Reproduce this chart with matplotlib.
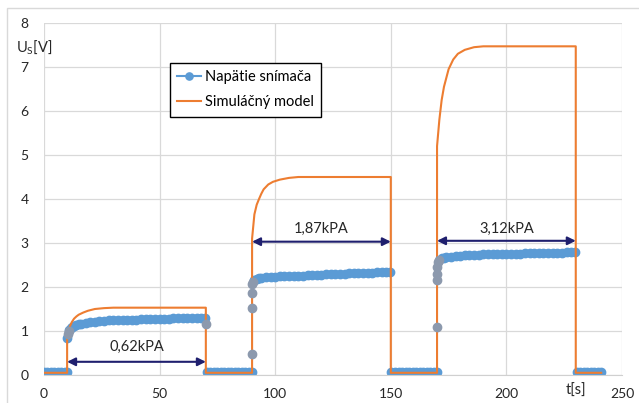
import matplotlib
matplotlib.use('Agg')
import matplotlib.pyplot as plt
from matplotlib.lines import Line2D
from matplotlib.patches import Rectangle
import numpy as np

plt.rcParams['font.family'] = ['Lato', 'DejaVu Sans']
plt.rcParams['mathtext.default'] = 'regular'

# simulation model (orange)
model_t = [0, 10, 10, 11, 12, 13, 14, 15, 17, 19, 22, 26, 30, 70, 70,
           90, 90, 91, 92, 93, 94, 95, 97, 99, 102, 106, 110, 150, 150,
           170, 170, 171, 172, 173, 174, 175, 177, 179, 182, 186, 190, 230, 230, 241]
model_u = [0.05, 0.05, 0.9, 1.08, 1.2, 1.28, 1.33, 1.37, 1.42, 1.46, 1.5, 1.52, 1.53, 1.53, 0.05,
           0.05, 3.1, 3.65, 3.87, 4.0, 4.12, 4.22, 4.33, 4.39, 4.44, 4.48, 4.5, 4.5, 0.05,
           0.05, 5.2, 5.8, 6.25, 6.55, 6.75, 6.95, 7.17, 7.3, 7.39, 7.45, 7.47, 7.47, 0.05, 0.05]

# measured sensor voltage (blue), one list per section
base1_t = [0, 1.5, 3, 4.5, 6, 7.5, 9, 10]
base1_u = [0.06, 0.06, 0.07, 0.06, 0.06, 0.07, 0.06, 0.06]

step1_t = [10.1, 10.3, 10.6, 11, 11.5, 12, 13, 14, 15, 16,
           18, 20, 22, 24, 26, 28, 30, 32, 34, 36, 38, 40, 42, 44, 46,
           48, 50, 52, 54, 56, 58, 60, 62, 64, 66, 68, 69.8, 70]
step1_u = [0.85, 0.94, 0.99, 1.03, 1.06, 1.08, 1.11, 1.13, 1.15, 1.16,
           1.18, 1.2, 1.21, 1.22, 1.23, 1.24, 1.24, 1.25, 1.25, 1.26, 1.26, 1.26, 1.27, 1.27, 1.27,
           1.28, 1.28, 1.28, 1.28, 1.29, 1.29, 1.29, 1.29, 1.3, 1.3, 1.3, 1.3, 1.15]

base2_t = [70.3, 72, 73.5, 75, 76.5, 78, 79.5, 81, 82.5, 84, 85.5, 87, 88.5, 89.8]
base2_u = [0.06, 0.06, 0.07, 0.06, 0.06, 0.06, 0.07, 0.06, 0.06, 0.06, 0.07, 0.06, 0.06, 0.06]

step2_t = [90, 90.05, 90.1, 90.15, 90.2, 91, 92, 93, 94, 96, 98, 100, 102, 104, 106,
           108, 110, 112, 114, 116, 118, 120, 122, 124, 126, 128, 130, 132, 134,
           136, 138, 140, 142, 144, 146, 148, 149.8]
step2_u = [0.48, 1.52, 1.87, 2.06, 2.12, 2.16, 2.18, 2.2, 2.21, 2.22, 2.22, 2.23, 2.24, 2.24, 2.25,
           2.25, 2.26, 2.26, 2.27, 2.27, 2.28, 2.28, 2.29, 2.29, 2.29, 2.3, 2.3, 2.31, 2.31,
           2.31, 2.32, 2.32, 2.32, 2.33, 2.33, 2.34, 2.35]

base3_t = [150.3, 152, 153.5, 155, 156.5, 158, 159.5, 161, 162.5, 164, 165.5, 167, 168.5, 169.8]
base3_u = [0.06, 0.06, 0.07, 0.06, 0.06, 0.06, 0.07, 0.06, 0.06, 0.06, 0.07, 0.06, 0.06, 0.06]

step3_t = [170, 170.05, 170.1, 170.15, 170.2, 171, 172, 173, 174, 176, 178, 180, 182, 184,
           186, 188, 190, 192, 194, 196, 198, 200, 202, 204, 206, 208, 210, 212, 214,
           216, 218, 220, 222, 224, 226, 228, 229.8]
step3_u = [1.1, 2.16, 2.3, 2.45, 2.56, 2.62, 2.65, 2.67, 2.68, 2.69, 2.7, 2.71, 2.72, 2.72,
           2.73, 2.73, 2.74, 2.74, 2.75, 2.75, 2.75, 2.76, 2.76, 2.76, 2.76, 2.77, 2.77, 2.77, 2.77,
           2.78, 2.78, 2.78, 2.78, 2.78, 2.79, 2.79, 2.79]

base4_t = [230.5, 232, 233.5, 235, 236.5, 238, 239.5, 241]
base4_u = [0.06, 0.06, 0.07, 0.06, 0.06, 0.07, 0.06, 0.06]

# pressure annotations
arrow_x0 = [10, 90, 170]
arrow_x1 = [70, 150, 230]
arrow_y = [0.3, 3.03, 3.05]
label_y = [0.64, 3.32, 3.32]
labels = ['0,62kPA', '1,87kPA', '3,12kPA']

sections = [(base1_t, base1_u), (step1_t, step1_u), (base2_t, base2_u), (step2_t, step2_u),
            (base3_t, base3_u), (step3_t, step3_u), (base4_t, base4_u)]

blue = '#5B9BD5'
orange = '#ED7D31'
gray = '#8C99AD'
navy = '#1F1F6E'

fig = plt.figure(figsize=(6.39, 4.03), dpi=100)
ax = fig.add_axes([44/639, 28/403, 578/639, 352/403])

for st, su in sections:
    st = np.array(st)
    su = np.array(su)
    assert len(st) == len(su)
    # samples caught in the middle of a step look grey in the original
    d = np.abs(np.diff(su, prepend=su[0]))
    dn = np.abs(np.diff(su, append=su[-1]))
    jump = (d > 0.05) | (dn > 0.3)
    ax.plot(st[~jump], su[~jump], color=blue, lw=4, marker='o', ms=6, mec=blue, mfc=blue,
            solid_capstyle='round', zorder=2)
    ax.plot(st[jump], su[jump], ls='none', marker='o', ms=6, mec=gray, mfc=gray, zorder=4)

ax.plot(model_t, model_u, color=orange, lw=1.5, zorder=3)

for x0, x1, ya, yl, lab in zip(arrow_x0, arrow_x1, arrow_y, label_y, labels):
    ax.annotate('', xy=(x1, ya), xytext=(x0, ya),
                arrowprops=dict(arrowstyle='<|-|>', color=navy, lw=1.5,
                                mutation_scale=12, shrinkA=0, shrinkB=0), zorder=5)
    ax.text((x0 + x1) / 2, yl, lab, ha='center', va='center', fontsize=10.5, color='#262626', zorder=5)

ax.set_xlim(0, 250)
ax.set_ylim(0, 8)
ax.set_xticks([0, 50, 100, 150, 200, 250])
ax.set_yticks(range(9))
ax.grid(True, color='#d9d9d9', lw=0.9)
ax.set_axisbelow(True)
for s in ['top', 'right', 'left']:
    ax.spines[s].set_visible(False)
ax.spines['bottom'].set_color('#d0d0d0')
ax.tick_params(length=0, labelsize=10, colors='#262626')
ax.tick_params(axis='x', pad=9)
ax.tick_params(axis='y', pad=11)

ax.text(230, -0.2, 't[s]', ha='center', va='top', fontsize=10.5, color='#262626', clip_on=False)
fig.text(16/639, 1 - 47/403, 'U$_{S}$[V]', ha='left', va='center', fontsize=10.5, color='#262626')

handles = [Line2D([], [], color=blue, lw=1.5, marker='o', ms=5.2),
           Line2D([], [], color=orange, lw=1.5)]
leg = ax.legend(handles, ['Napätie snímača', 'Simuláčný model'], loc='upper left',
                bbox_to_anchor=(0.218, 0.886), fontsize=10.5, fancybox=False,
                framealpha=1, edgecolor='black', handlelength=1.6, handletextpad=0.3,
                labelspacing=0.75, borderpad=0.5, borderaxespad=0)
leg.get_frame().set_linewidth(1.0)

fig.patches.append(Rectangle((7/639, -0.5), 2, 1 - 8/403 + 0.5, transform=fig.transFigure,
                             fill=False, edgecolor='#d9d9d9', lw=1))

fig.savefig('out.png', dpi=100)
